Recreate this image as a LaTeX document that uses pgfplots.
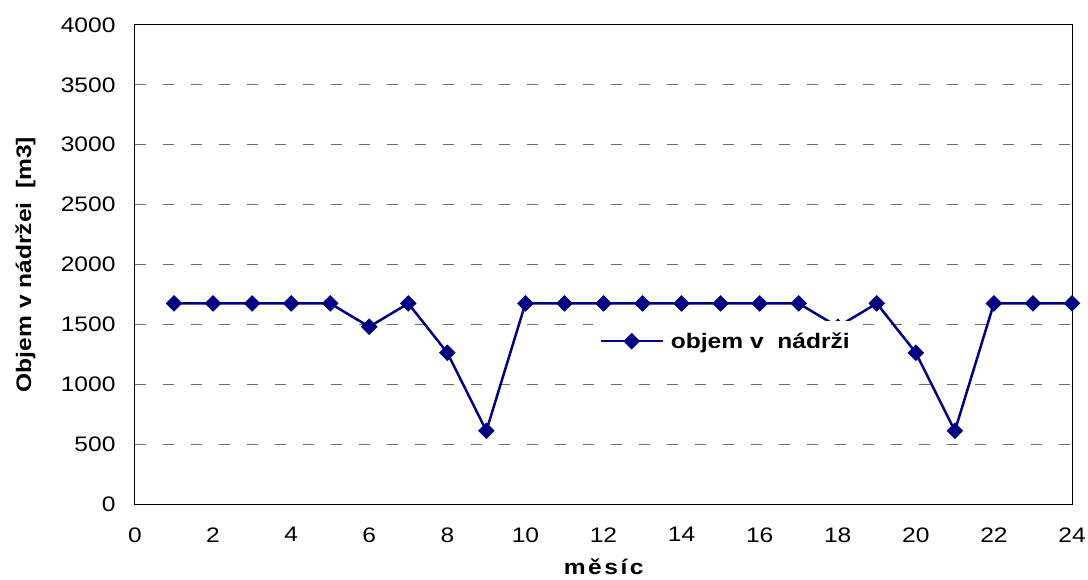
\documentclass[border=0pt]{standalone}
\usepackage{fontspec}
\setmainfont{Liberation Sans}[FakeStretch=1.17]
\usepackage{pgfplots}
\pgfplotsset{compat=1.18}
\definecolor{navyline}{RGB}{0,0,128}
\definecolor{gridgray}{RGB}{110,110,110}
\begin{document}
\begin{tikzpicture}
\useasboundingbox (-135pt,-75pt) rectangle (953pt,504pt);
\begin{axis}[
  at={(0pt,0pt)}, anchor=south west,
  scale only axis, width=937pt, height=479pt,
  xmin=0, xmax=24, ymin=0, ymax=4000,
  xtick={0,2,...,24}, ytick={0,500,...,4000},
  major tick length=0pt,
  ymajorgrids,
  grid style={gridgray, dash pattern=on 11pt off 17pt, line width=1pt},
  axis line style={black, line width=1pt},
  tick label style={font=\fontsize{21}{24}\selectfont},
  /pgf/number format/assume math mode=true,
  /pgf/number format/1000 sep={},
  xticklabel style={yshift=-20pt},
  yticklabel style={xshift=-16pt},
  xlabel={\textbf{\addfontfeature{LetterSpace=12}měsíc}},
  xlabel style={at={(axis description cs:0.5016,-0.132)}, anchor=center, font=\fontsize{21}{24}\selectfont},
  ylabel={\textbf{Objem v nádržei\ \ [m3]}},
  ylabel style={at={(axis description cs:-0.117,0.5)}, anchor=center, font=\fontsize{21}{24}\selectfont},
  clip=false,
  legend style={at={(axis description cs:0.489,0.340)}, anchor=west, draw=none, fill=white,
    font=\bfseries\fontsize{21}{24}\selectfont, inner xsep=6pt, inner ysep=10pt},
  legend cell align=left,
  legend image code/.code={\draw[mark repeat=2,mark phase=2,#1] plot coordinates {(0pt,0pt) (31pt,0pt) (62pt,0pt)};},
]
\addplot[navyline, line width=2.5pt, mark=square*, mark size=5.6pt, mark options={rotate=45, solid, line width=0.5pt}]
coordinates {
(1,1675) (2,1675) (3,1675) (4,1675) (5,1675) (6,1480) (7,1675) (8,1263)
(9,611) (10,1675) (11,1675) (12,1675) (13,1675) (14,1675) (15,1675) (16,1675)
(17,1675) (18,1480) (19,1675) (20,1263) (21,611) (22,1675) (23,1675) (24,1675)
};
\addlegendentry{\hspace{5pt}objem v\ \ nádrži}
\end{axis}
\end{tikzpicture}
\end{document}
